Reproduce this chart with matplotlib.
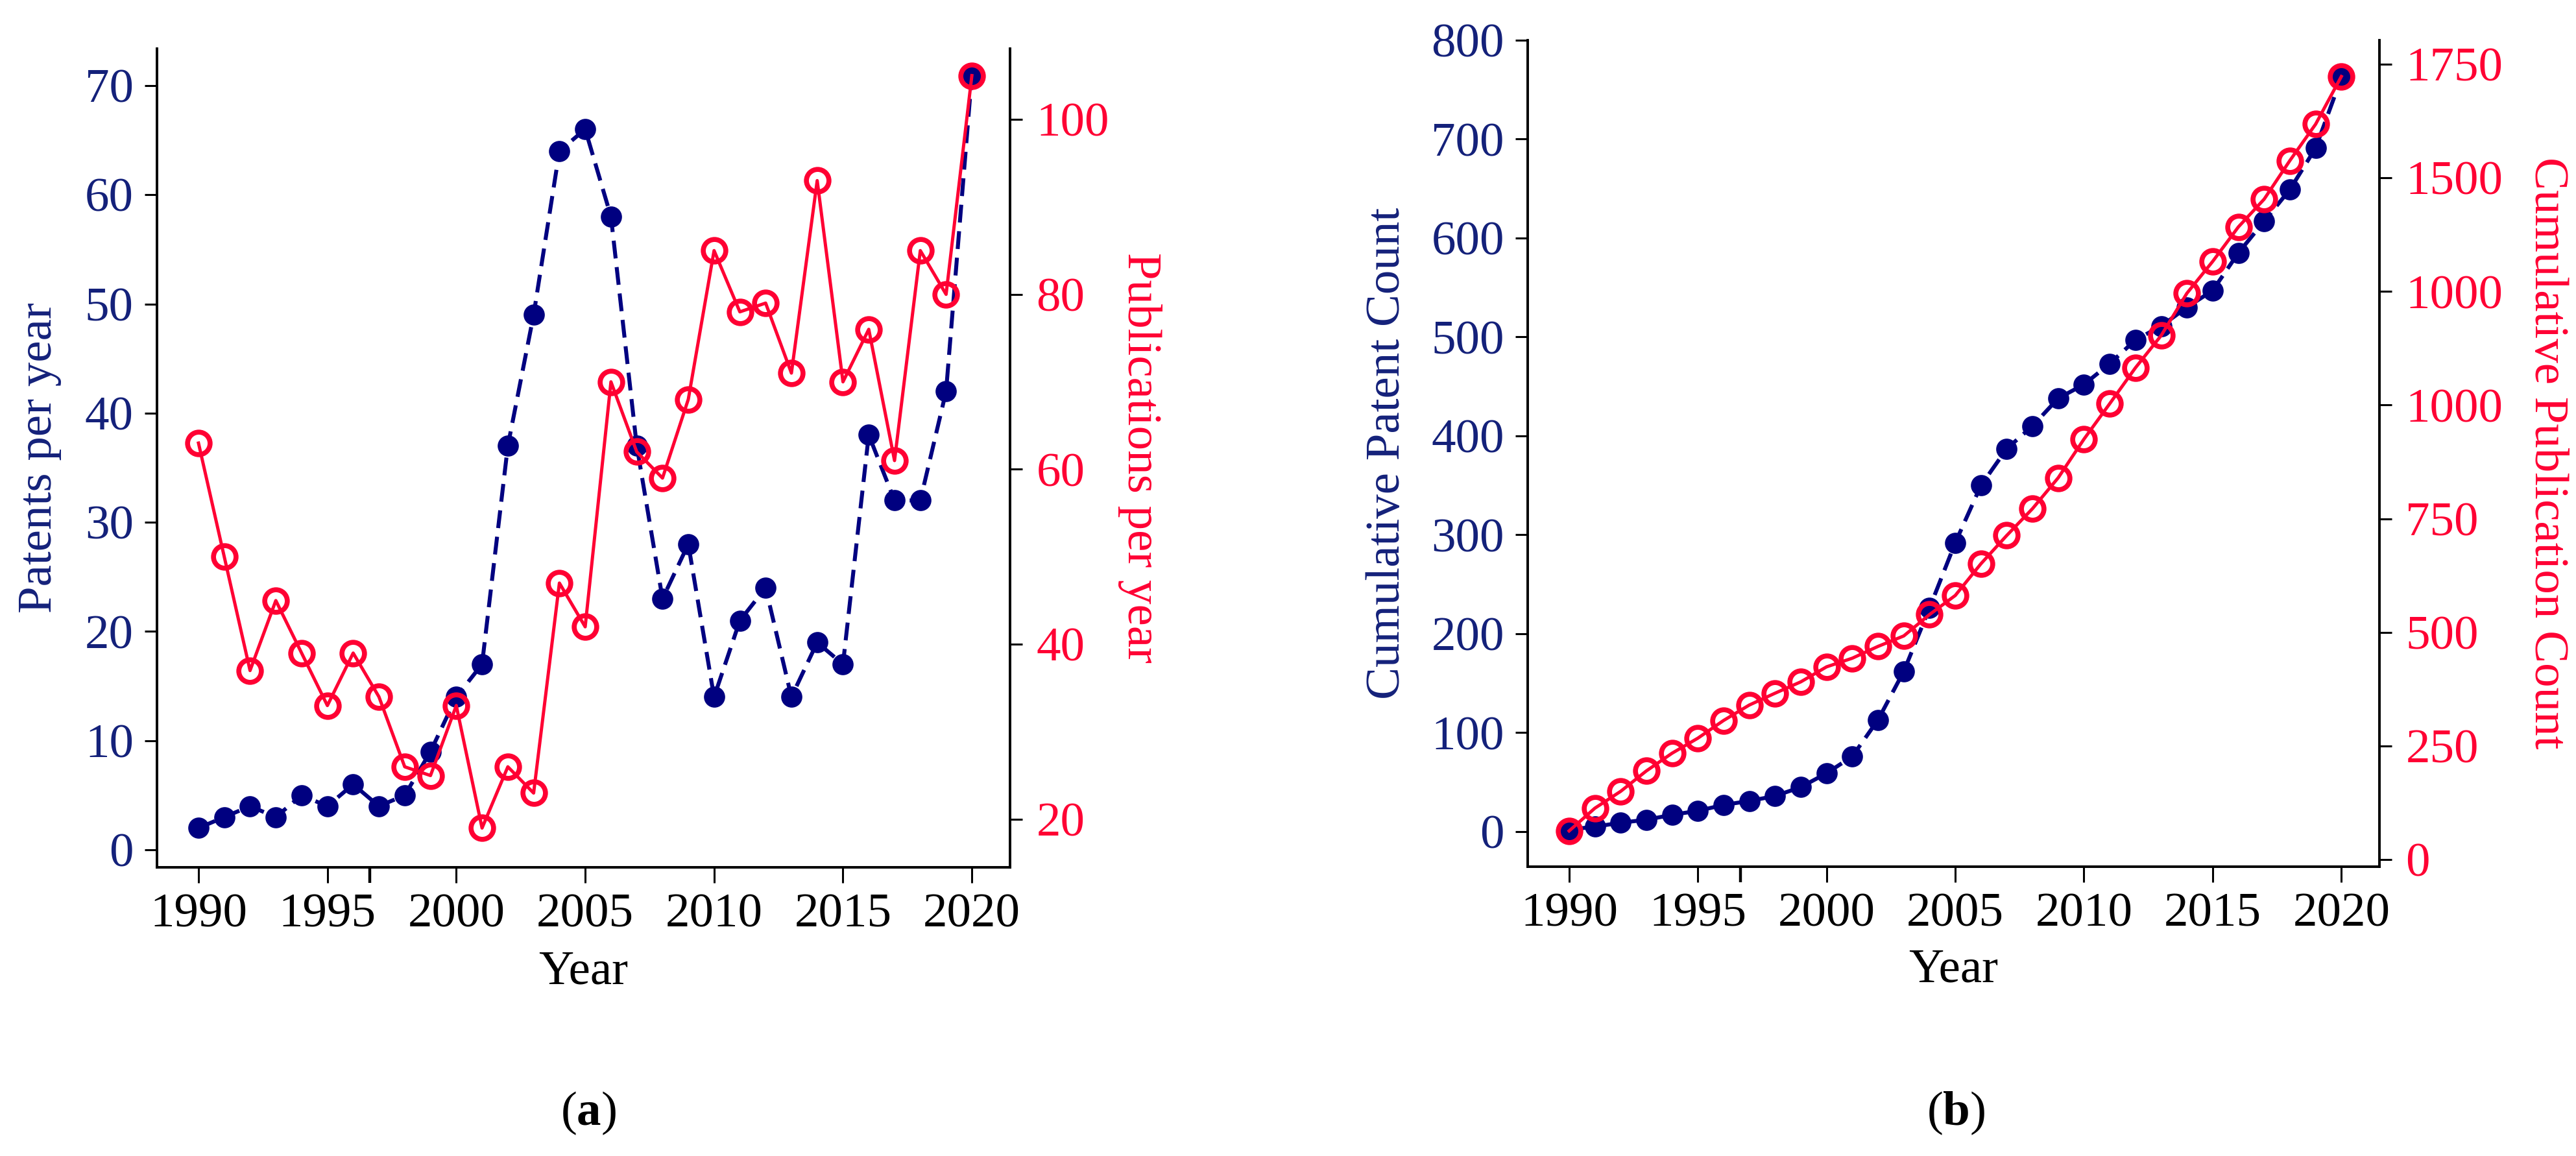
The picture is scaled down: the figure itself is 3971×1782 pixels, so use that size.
import matplotlib
matplotlib.use("Agg")
import matplotlib.pyplot as plt
from matplotlib.ticker import FixedLocator, FixedFormatter

plt.rcParams['font.family'] = ['Liberation Serif', 'DejaVu Serif']
plt.rcParams['mathtext.fontset'] = 'custom'
plt.rcParams['mathtext.rm'] = 'Liberation Serif'
plt.rcParams['mathtext.bf'] = 'Liberation Serif:bold'

years = list(range(1990, 2021))

patents_per_year = [2, 3, 4, 3, 5, 4, 6, 4, 5, 9, 14, 17, 37, 49, 64, 66,
                    58, 37, 23, 28, 14, 21, 24, 14, 19, 17, 38, 32, 32, 42, 71]
pubs_per_year = [63, 50, 37, 45, 39, 33, 39, 34, 26, 25, 33, 19, 26, 23, 47, 42,
                 70, 62, 59, 68, 85, 78, 79, 71, 93, 70, 76, 61, 85, 80, 105]

cum_patents = [2, 5, 9, 12, 17, 21, 27, 31, 36, 45, 59, 76, 113, 162, 226, 292,
               350, 387, 410, 438, 452, 473, 497, 511, 530, 547, 585, 617, 649, 691, 762]
cum_pubs = [63, 113, 150, 195, 234, 267, 306, 340, 366, 391, 424, 443, 469, 492, 539, 581,
            651, 713, 772, 840, 925, 1003, 1082, 1153, 1246, 1316, 1392, 1453, 1538, 1618, 1723]

x_ticks = [1990, 1995, 2000, 2005, 2010, 2015, 2020]
a_left_ticks = [0, 10, 20, 30, 40, 50, 60, 70]
a_right_ticks = [20, 40, 60, 80, 100]
b_left_ticks = [0, 100, 200, 300, 400, 500, 600, 700, 800]
b_right_ticks = [0, 250, 500, 750, 1000, 1250, 1500, 1750]
b_right_labels = ['0', '250', '500', '750', '1000', '1000', '1500', '1750']

NAVY = '#000080'
NAVY_TXT = '#14217a'
RED = '#ff0033'
FS = 54

fig = plt.figure(figsize=(39.71, 17.82), dpi=100)
ax1 = fig.add_axes([0.06094, 0.24972, 0.33115, 0.70819])
ax3 = fig.add_axes([0.59305, 0.25056, 0.33065, 0.71465])


def style_pair(ax, axr, yl, ylr, ylab_x, ylabr_x, xlab_y):
    ax.spines['top'].set_visible(False)
    axr.spines['top'].set_visible(False)
    for a in (ax, axr):
        for s in a.spines.values():
            s.set_linewidth(2.6)
    ax.set_xlim(1988.39, 2021.48)
    ax.set_xticks(x_ticks)
    ax.set_xticks([1996.65], minor=True)
    ax.tick_params(axis='x', which='major', direction='out', length=17, width=2.2,
                   pad=12, labelsize=FS, labelcolor='black')
    ax.tick_params(axis='x', which='minor', direction='out', length=17, width=3.2)
    ax.tick_params(axis='y', which='major', direction='out', length=14, width=2.2,
                   pad=12, labelsize=FS, labelcolor=NAVY_TXT)
    axr.tick_params(axis='y', which='major', direction='out', length=14, width=2.2,
                    pad=15, labelsize=FS, labelcolor=RED)

    ax.set_xlabel('Year', fontsize=FS, color='black')
    ax.xaxis.label.set_va('center')
    ax.xaxis.set_label_coords(0.5, xlab_y)

    ax.set_ylabel(yl, fontsize=FS, color=NAVY_TXT)
    ax.yaxis.label.set_va('center')
    ax.yaxis.set_label_coords(ylab_x, 0.5)

    axr.set_ylabel(ylr, fontsize=FS, color=RED, rotation=270)
    axr.yaxis.label.set_va('center')
    axr.yaxis.set_label_coords(ylabr_x, 0.5)


# (a) yearly counts
ax1.plot(years, patents_per_year, color=NAVY, lw=4.4, ls='--', dashes=(4.5, 2.2),
         marker='o', ms=22, mfc=NAVY, mec=NAVY, mew=1.5)
ax1.set_ylim(-1.6, 73.38)
ax1.set_yticks(a_left_ticks)

ax2 = ax1.twinx()
ax2.plot(years, pubs_per_year, color=RED, lw=3.6, marker='o', ms=25,
         mfc='none', mec=RED, mew=5.5)
ax2.set_ylim(14.51, 108.08)
ax2.set_yticks(a_right_ticks)

style_pair(ax1, ax2, 'Patents per year', 'Publications per year',
           -0.1376, 1.152, -0.128)

# (b) cumulative counts
ax3.plot(years, cum_patents, color=NAVY, lw=4.4, ls='--', dashes=(4.5, 2.2),
         marker='o', ms=22, mfc=NAVY, mec=NAVY, mew=1.5)
ax3.set_ylim(-35.1, 800)
ax3.set_yticks(b_left_ticks)

ax4 = ax3.twinx()
ax4.plot(years, cum_pubs, color=RED, lw=3.6, marker='o', ms=25,
         mfc='none', mec=RED, mew=5.5)
ax4.set_ylim(-15, 1802.8)
ax4.yaxis.set_major_locator(FixedLocator(b_right_ticks))
ax4.yaxis.set_major_formatter(FixedFormatter(b_right_labels))

style_pair(ax3, ax4, 'Cumulative Patent Count', 'Cumulative Publication Count',
           -0.1645, 1.1965, -0.126)

fig.text(0.2284, 0.037, r'($\mathbf{a}$)', fontsize=FS, ha='center', va='center')
fig.text(0.7593, 0.037, r'($\mathbf{b}$)', fontsize=FS, ha='center', va='center')

fig.savefig('out.png', dpi=100)
